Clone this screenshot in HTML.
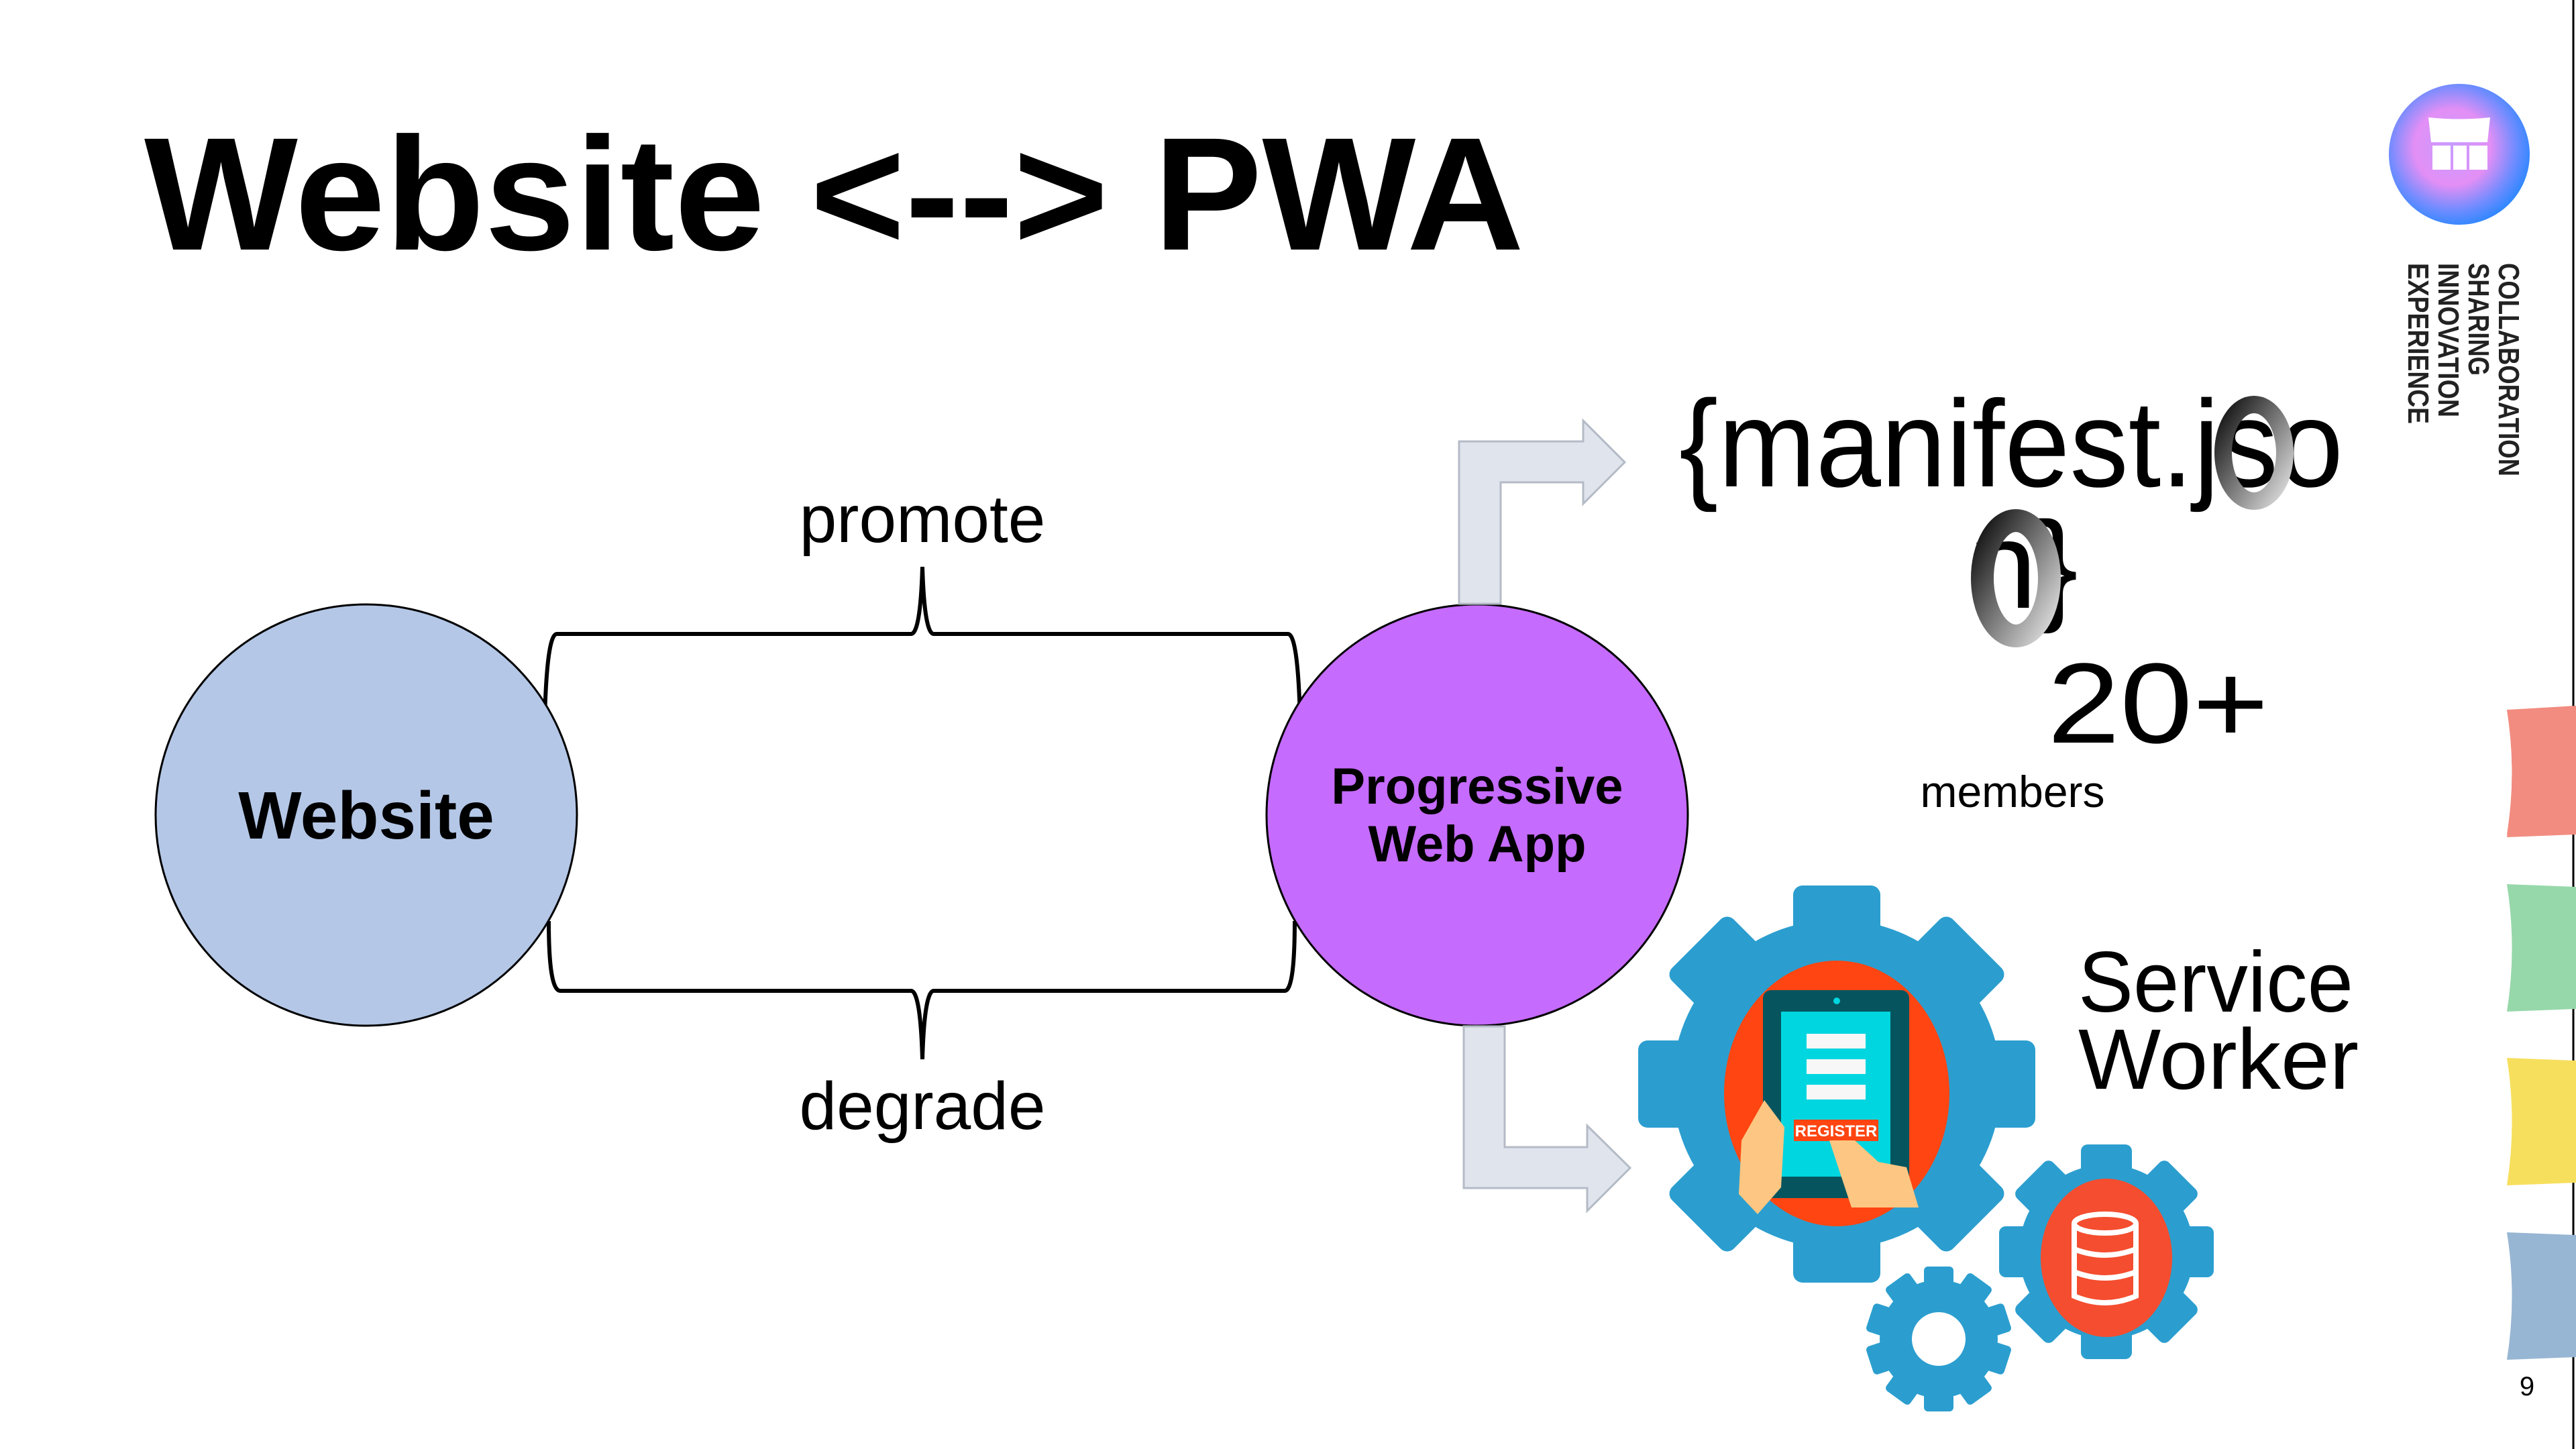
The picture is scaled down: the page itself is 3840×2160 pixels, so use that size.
<!DOCTYPE html>
<html><head><meta charset="utf-8"><style>
html,body{margin:0;padding:0;background:#fff}
svg{display:block}
</style></head><body>
<svg width="3840" height="2160" viewBox="0 0 3840 2160" xmlns="http://www.w3.org/2000/svg">
<defs>
<radialGradient id="lg" cx="0.45" cy="0.45" r="0.6">
<stop offset="0" stop-color="#c79cff"/><stop offset="0.45" stop-color="#e38ff5"/><stop offset="0.75" stop-color="#6f8cff"/><stop offset="1" stop-color="#1f86ff"/>
</radialGradient>
<linearGradient id="rg" x1="0" y1="0" x2="1" y2="1">
<stop offset="0" stop-color="#111"/><stop offset="0.5" stop-color="#777"/><stop offset="1" stop-color="#ddd"/>
</linearGradient>
</defs>
<rect width="3840" height="2160" fill="#fff"/>
<line x1="3836" y1="0" x2="3836" y2="2160" stroke="#000" stroke-width="3"/>

<!-- title -->
<text x="215" y="372" font-family="Liberation Sans, sans-serif" font-weight="bold" font-size="240" textLength="2057" lengthAdjust="spacingAndGlyphs">Website &lt;--&gt; PWA</text>

<!-- logo -->
<circle cx="3666" cy="230" r="105" fill="url(#lg)"/>
<g fill="#fff">
<path d="M3620 175 Q3666 180 3712 175 L3708 212 L3624 212 Z"/>
<rect x="3626" y="217" width="27" height="36"/><rect x="3657" y="217" width="20" height="36"/><rect x="3681" y="217" width="27" height="36"/>
</g>
<g font-family="Liberation Sans, sans-serif" font-weight="bold" font-size="44" fill="#222">
<text transform="translate(3725,392) rotate(90)" textLength="318" lengthAdjust="spacingAndGlyphs">COLLABORATION</text>
<text transform="translate(3680,392) rotate(90)" textLength="168" lengthAdjust="spacingAndGlyphs">SHARING</text>
<text transform="translate(3635,392) rotate(90)" textLength="230" lengthAdjust="spacingAndGlyphs">INNOVATION</text>
<text transform="translate(3590,392) rotate(90)" textLength="240" lengthAdjust="spacingAndGlyphs">EXPERIENCE</text>
</g>

<!-- side tabs -->
<path d="M3737 1058 Q3840 1052 3840 1052 L3840 1244 L3737 1244 Q3752 1150 3737 1058Z" fill="#f28c80"/>
<path d="M3737 1318 L3840 1322 L3840 1504 L3737 1508 Q3752 1413 3737 1318Z" fill="#97d8aa"/>
<path d="M3737 1577 L3840 1581 L3840 1763 L3737 1767 Q3752 1672 3737 1577Z" fill="#f7df5e"/>
<path d="M3737 1837 L3840 1841 L3840 2023 L3737 2027 Q3752 1932 3737 1837Z" fill="#97b6d3"/>
<path d="M3737 1058 L3840 1062 L3840 1244 L3737 1248 Q3752 1153 3737 1058Z" fill="#f28c80"/>
<text x="3767" y="2080" font-family="Liberation Sans, sans-serif" font-size="40" fill="#000" text-anchor="middle">9</text>

<!-- braces -->
<g fill="none" stroke="#000" stroke-width="6">
<path d="M811 1157 Q811 945 830 945 L1358 945 Q1372 945 1375 845 Q1378 945 1392 945 L1920 945 Q1939 945 1939 1157"/>
<path d="M818 1373 Q818 1477 835 1477 L1358 1477 Q1372 1477 1375 1579 Q1378 1477 1392 1477 L1915 1477 Q1930 1477 1930 1373"/>
</g>
<g font-family="Liberation Sans, sans-serif" font-size="100" fill="#000" text-anchor="middle">
<text x="1375" y="808">promote</text>
<text x="1375" y="1683">degrade</text>
</g>

<!-- circles -->
<circle cx="546" cy="1215" r="314" fill="#b4c7e7" stroke="#000" stroke-width="3"/>
<text x="546" y="1250" font-family="Liberation Sans, sans-serif" font-weight="bold" font-size="100" text-anchor="middle">Website</text>
<circle cx="2202" cy="1215" r="314" fill="#c56bfd" stroke="#000" stroke-width="3"/>
<g font-family="Liberation Sans, sans-serif" font-weight="bold" font-size="76" text-anchor="middle">
<text x="2202" y="1198">Progressive</text>
<text x="2202" y="1284">Web App</text>
</g>

<!-- arrows -->
<path d="M2175 900 L2175 658 L2360 658 L2360 627 L2422 689 L2360 751 L2360 719 L2237 719 L2237 900 Z" fill="#e0e4ed" stroke="#b4bbc6" stroke-width="3"/>
<path d="M2182 1530 L2182 1771 L2366 1771 L2366 1805 L2430 1741 L2366 1678 L2366 1710 L2243 1710 L2243 1530 Z" fill="#e0e4ed" stroke="#b4bbc6" stroke-width="3"/>

<!-- manifest -->
<g font-family="Liberation Sans, sans-serif" font-size="184" fill="#000">
<text x="2503" y="725" textLength="990" lengthAdjust="spacingAndGlyphs">{manifest.jso</text>
<text x="2934" y="906">n}</text>
</g>
<ellipse cx="3360" cy="675" rx="46" ry="72" fill="none" stroke="url(#rg)" stroke-width="26"/>
<ellipse cx="3005" cy="862" rx="50" ry="86" fill="none" stroke="url(#rg)" stroke-width="34"/>
<text x="3052" y="1107" font-family="Liberation Sans, sans-serif" font-size="170" textLength="330" lengthAdjust="spacingAndGlyphs">20+</text>
<text x="3000" y="1203" font-family="Liberation Sans, sans-serif" font-size="66" text-anchor="middle">members</text>

<g font-family="Liberation Sans, sans-serif" font-size="128" fill="#000">
<text x="3098" y="1508" textLength="410" lengthAdjust="spacingAndGlyphs">Service</text>
<text x="3098" y="1623" textLength="418" lengthAdjust="spacingAndGlyphs">Worker</text>
</g>

<!-- gears -->
<g fill="#2b9ecf">
<g transform="translate(2738,1616)">
<circle r="245"/>
<g id="t8"><rect x="-65" y="-296" width="130" height="120" rx="14"/></g>
<use href="#t8" transform="rotate(45)"/><use href="#t8" transform="rotate(90)"/><use href="#t8" transform="rotate(135)"/>
<use href="#t8" transform="rotate(180)"/><use href="#t8" transform="rotate(225)"/><use href="#t8" transform="rotate(270)"/><use href="#t8" transform="rotate(315)"/>
</g>
<g transform="translate(3140,1866)">
<circle r="130"/>
<g id="t9"><rect x="-38" y="-160" width="76" height="70" rx="10"/></g>
<use href="#t9" transform="rotate(45)"/><use href="#t9" transform="rotate(90)"/><use href="#t9" transform="rotate(135)"/>
<use href="#t9" transform="rotate(180)"/><use href="#t9" transform="rotate(225)"/><use href="#t9" transform="rotate(270)"/><use href="#t9" transform="rotate(315)"/>
</g>
<g transform="translate(2890,1996)">
<circle r="88"/>
<g id="t10"><rect x="-22" y="-108" width="44" height="50" rx="6"/></g>
<use href="#t10" transform="rotate(36)"/><use href="#t10" transform="rotate(72)"/><use href="#t10" transform="rotate(108)"/>
<use href="#t10" transform="rotate(144)"/><use href="#t10" transform="rotate(180)"/><use href="#t10" transform="rotate(216)"/><use href="#t10" transform="rotate(252)"/><use href="#t10" transform="rotate(288)"/><use href="#t10" transform="rotate(324)"/>
</g>
</g>
<circle cx="2890" cy="1996" r="40" fill="#fff"/>
<!-- big gear inner -->
<ellipse cx="2738" cy="1630" rx="168" ry="198" fill="#ff4511"/>
<rect x="2628" y="1476" width="218" height="310" rx="12" fill="#06555e"/>
<rect x="2655" y="1508" width="163" height="246" fill="#00d6e0"/>
<rect x="2693" y="1541" width="88" height="22" fill="#f7f7f7"/>
<rect x="2693" y="1579" width="88" height="22" fill="#f7f7f7"/>
<rect x="2693" y="1617" width="88" height="22" fill="#f7f7f7"/>
<rect x="2674" y="1669" width="126" height="32" fill="#ff4511"/>
<text x="2737" y="1694" font-family="Liberation Sans, sans-serif" font-weight="bold" font-size="24" fill="#fff" text-anchor="middle">REGISTER</text>
<path d="M2727 1700 L2760 1800 L2860 1800 L2842 1740 L2800 1732 L2765 1700 Z" fill="#fdc682"/>
<path d="M2592 1780 L2596 1700 L2630 1640 L2660 1680 L2655 1770 L2620 1810 Z" fill="#fdc682"/>
<circle cx="2738" cy="1492" r="5" fill="#00d6e0"/>
<!-- medium gear inner -->
<ellipse cx="3140" cy="1875" rx="98" ry="118" fill="#f44d2f"/>
<g fill="none" stroke="#fff" stroke-width="8">
<ellipse cx="3138" cy="1824" rx="46" ry="14"/>
<path d="M3092 1824 L3092 1932 Q3138 1952 3184 1932 L3184 1824"/>
<path d="M3092 1862 Q3138 1880 3184 1862"/>
<path d="M3092 1896 Q3138 1914 3184 1896"/>
</g>
</svg>
</body></html>
